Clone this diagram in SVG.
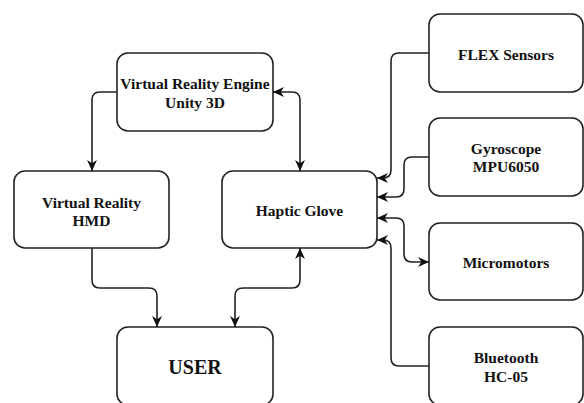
<svg xmlns="http://www.w3.org/2000/svg" width="584" height="403" viewBox="0 0 584 403">
  <defs>
    <style>
      .box { fill: #ffffff; stroke: #222222; stroke-width: 1.6; }
      .lbl { font-family: "Liberation Serif", "Times New Roman", serif; font-weight: bold; font-size: 15.5px; fill: #111111; text-anchor: middle; }
      .big { font-size: 20px; }
      .edge { fill: none; stroke: #222222; stroke-width: 1.6; }
    </style>
    <marker id="arrow" viewBox="0 0 10 10" refX="10" refY="5" markerWidth="11" markerHeight="11" markerUnits="userSpaceOnUse" orient="auto-start-reverse">
      <path d="M0,0.5 L10,5 L0,9.5 L3,5 Z" fill="#111111"/>
    </marker>
  </defs>
  <rect width="584" height="403" fill="#ffffff"/>

  <g id="connectors">
    <path class="edge" d="M117,92 H100 Q92,92 92,100 V171" marker-end="url(#arrow)"/>
    <path class="edge" d="M273,92 H292 Q300,92 300,100 V171" marker-start="url(#arrow)" marker-end="url(#arrow)"/>
    <path class="edge" d="M92,248 V280 Q92,288 100,288 H149 Q157,288 157,296 V327" marker-end="url(#arrow)"/>
    <path class="edge" d="M235,327 V296 Q235,288 243,288 H292 Q300,288 300,280 V248" marker-start="url(#arrow)" marker-end="url(#arrow)"/>
    <path class="edge" d="M429,53 H399 Q391,53 391,61 V170 Q391,178 383,178 H377" marker-end="url(#arrow)"/>
    <path class="edge" d="M429,157 H412 Q404,157 404,165 V189 Q404,197 396,197 H377" marker-end="url(#arrow)"/>
    <path class="edge" d="M377,218 H396 Q404,218 404,226 V254 Q404,262 412,262 H429" marker-start="url(#arrow)" marker-end="url(#arrow)"/>
    <path class="edge" d="M429,366 H399 Q391,366 391,358 V248 Q391,240 383,240 H377" marker-end="url(#arrow)"/>
  </g>

  <g id="vr-engine">
    <rect class="box" x="117" y="53" width="156" height="78" rx="11"/>
    <text class="lbl" x="195" y="89">Virtual Reality Engine</text>
    <text class="lbl" x="195" y="108">Unity 3D</text>
  </g>

  <g id="vr-hmd">
    <rect class="box" x="14" y="171" width="155" height="77" rx="11"/>
    <text class="lbl" x="91.5" y="207.5">Virtual Reality</text>
    <text class="lbl" x="91.5" y="226">HMD</text>
  </g>

  <g id="haptic-glove">
    <rect class="box" x="222" y="171" width="155" height="77" rx="11"/>
    <text class="lbl" x="299.5" y="215.5">Haptic Glove</text>
  </g>

  <g id="user">
    <rect class="box" x="117" y="327" width="156" height="78" rx="11"/>
    <text class="lbl big" x="195" y="374">USER</text>
  </g>

  <g id="flex-sensors">
    <rect class="box" x="429" y="14" width="154" height="78" rx="11"/>
    <text class="lbl" x="506" y="60">FLEX Sensors</text>
  </g>

  <g id="gyroscope">
    <rect class="box" x="429" y="118" width="154" height="78" rx="11"/>
    <text class="lbl" x="506" y="154">Gyroscope</text>
    <text class="lbl" x="506" y="172">MPU6050</text>
  </g>

  <g id="micromotors">
    <rect class="box" x="429" y="223" width="154" height="77" rx="11"/>
    <text class="lbl" x="506" y="267.5">Micromotors</text>
  </g>

  <g id="bluetooth">
    <rect class="box" x="429" y="327" width="154" height="78" rx="11"/>
    <text class="lbl" x="506" y="363">Bluetooth</text>
    <text class="lbl" x="506" y="381.5">HC-05</text>
  </g>
</svg>
